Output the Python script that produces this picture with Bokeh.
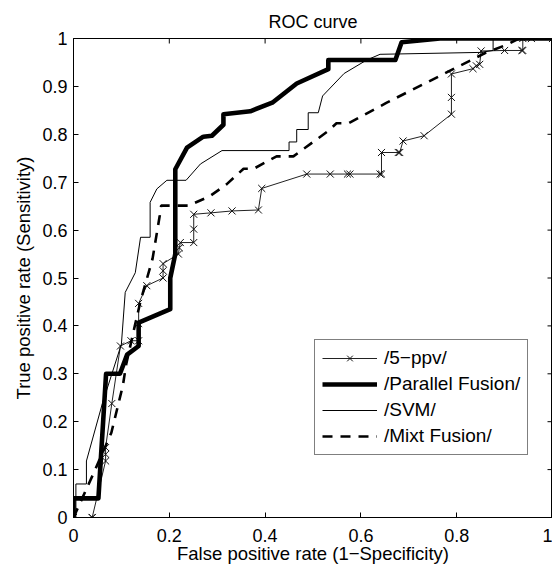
import math
from bokeh.plotting import figure
from bokeh.models import Range1d, FixedTicker, Legend, LegendItem
from bokeh.embed import file_html
from bokeh.resources import INLINE

# ---- data ----
x_ticks = [0.0, 0.2, 0.4, 0.6, 0.8, 1.0]
x_tick_labels = ["0", "0.2", "0.4", "0.6", "0.8", "1"]
y_ticks = [0.0, 0.1, 0.2, 0.3, 0.4, 0.5, 0.6, 0.7, 0.8, 0.9, 1.0]
y_tick_labels = ["0", "0.1", "0.2", "0.3", "0.4", "0.5", "0.6", "0.7", "0.8", "0.9", "1"]

series_names = ["/5\u2212ppv/", "/Parallel Fusion/", "/SVM/", "/Mixt Fusion/"]

ppv_fpr = [0.0, 0.039, 0.039, 0.067, 0.067, 0.067, 0.080, 0.098, 0.120, 0.136, 0.136, 0.136,
           0.153, 0.187, 0.187, 0.187, 0.219, 0.221, 0.223, 0.251, 0.251, 0.251, 0.287, 0.331,
           0.386, 0.393, 0.487, 0.536, 0.572, 0.577, 0.640, 0.643, 0.643, 0.678, 0.681, 0.688,
           0.732, 0.789, 0.789, 0.789, 0.834, 0.841, 0.848, 0.851, 0.900, 0.936, 0.938, 0.938,
           0.956, 1.0]
ppv_tpr = [0.0, 0.0, 0.0, 0.118, 0.132, 0.146, 0.238, 0.358, 0.369, 0.369, 0.405, 0.447,
           0.484, 0.500, 0.515, 0.530, 0.550, 0.563, 0.574, 0.574, 0.602, 0.633, 0.636, 0.640,
           0.642, 0.687, 0.717, 0.717, 0.717, 0.717, 0.717, 0.717, 0.762, 0.762, 0.762, 0.786,
           0.797, 0.842, 0.877, 0.926, 0.937, 0.943, 0.946, 0.974, 0.975, 0.975, 0.975, 1.0,
           1.0, 1.0]

par_fpr = [0.0, 0.0, 0.052, 0.068, 0.097, 0.112, 0.136, 0.136, 0.202, 0.202, 0.2125, 0.2125,
           0.237, 0.271, 0.289, 0.313, 0.313, 0.369, 0.415, 0.466, 0.532, 0.532, 0.672, 0.685,
           0.765, 1.0]
par_tpr = [0.0, 0.04, 0.04, 0.30, 0.30, 0.34, 0.358, 0.407, 0.435, 0.50, 0.55, 0.727,
           0.772, 0.795, 0.797, 0.82, 0.842, 0.848, 0.866, 0.906, 0.936, 0.955, 0.955, 0.992,
           1.0, 1.0]

svm_fpr = [0.0, 0.005, 0.005, 0.027, 0.027, 0.060, 0.100, 0.108, 0.129, 0.140, 0.160, 0.160,
           0.174, 0.195, 0.235, 0.265, 0.310, 0.450, 0.450, 0.466, 0.466, 0.490, 0.490, 0.511,
           0.520, 0.565, 0.612, 0.640, 0.850, 0.876, 0.876, 1.0]
svm_tpr = [0.0, 0.0, 0.070, 0.070, 0.118, 0.237, 0.362, 0.470, 0.511, 0.585, 0.585, 0.658,
           0.686, 0.704, 0.704, 0.738, 0.766, 0.766, 0.784, 0.784, 0.810, 0.810, 0.845, 0.845,
           0.880, 0.927, 0.955, 0.967, 0.971, 0.975, 1.0, 1.0]

mixt_fpr = [0.0, 0.044, 0.079, 0.103, 0.110, 0.128, 0.140, 0.165, 0.180, 0.183, 0.240, 0.285,
            0.320, 0.355, 0.376, 0.424, 0.459, 0.532, 0.549, 0.574, 0.654, 0.860, 0.907, 0.930,
            1.0]
mixt_tpr = [0.0, 0.097, 0.177, 0.275, 0.320, 0.400, 0.452, 0.540, 0.630, 0.651, 0.651, 0.671,
            0.696, 0.728, 0.728, 0.754, 0.754, 0.807, 0.823, 0.823, 0.866, 0.970, 0.988, 1.0,
            1.0]

FONT = "Liberation Sans"
X_MIN, X_MAX = 0.0, 1.0
Y_MIN, Y_MAX = 0.0, 1.0

p = figure(width=552, height=571, x_range=Range1d(X_MIN, X_MAX), y_range=Range1d(Y_MIN, Y_MAX),
           output_backend="svg", toolbar_location=None,
           min_border_left=73, min_border_right=0, min_border_top=38, min_border_bottom=54)

p.grid.visible = False
p.outline_line_color = "black"
p.outline_line_width = 1
p.background_fill_color = "white"
p.border_fill_color = "white"

p.title.text = "ROC curve"
p.title.align = "center"
p.title.text_font = FONT
p.title.text_font_size = "18px"
p.title.text_font_style = "normal"
p.title.text_color = "black"
p.title.standoff = 13


def style_axis(ax, ticks, labels):
    ax.ticker = FixedTicker(ticks=ticks)
    ax.major_tick_in = 5
    ax.major_tick_out = 0
    ax.minor_tick_in = 0
    ax.minor_tick_out = 0
    ax.axis_line_color = "black"
    ax.major_tick_line_color = "black"
    ax.major_label_overrides = {t: l for t, l in zip(ticks, labels)}
    ax.major_label_text_font = FONT
    ax.major_label_text_font_size = "18px"
    ax.major_label_text_color = "black"
    ax.axis_label_text_font = FONT
    ax.axis_label_text_font_size = "18.5px"
    ax.axis_label_text_font_style = "normal"
    ax.axis_label_text_color = "black"


style_axis(p.xaxis[0], x_ticks, x_tick_labels)
style_axis(p.yaxis[0], y_ticks, y_tick_labels)
p.xaxis[0].major_label_standoff = 11
p.yaxis[0].major_label_standoff = 6
p.xaxis[0].axis_label = "False positive rate (1\u2212Specificity)"
p.yaxis[0].axis_label = "True positive rate (Sensitivity)"
p.xaxis[0].axis_label_standoff = -2
p.yaxis[0].axis_label_standoff = 5

# inward ticks on the top and right edges of the box (MATLAB "box on")
p.ray(x=x_ticks, y=[Y_MAX] * len(x_ticks), length=5, length_units="screen",
      angle=-math.pi / 2, line_color="black", line_width=1)
p.ray(x=[X_MAX] * len(y_ticks), y=y_ticks, length=5, length_units="screen",
      angle=math.pi, line_color="black", line_width=1)

# ---- curves ----
r_ppv_l = p.line(ppv_fpr, ppv_tpr, line_color="#222222", line_width=1)
r_ppv_m = p.scatter(ppv_fpr, ppv_tpr, marker="x", size=10, line_color="#111111", line_width=1)
r_par = p.line(par_fpr, par_tpr, line_color="black", line_width=4.6, line_join="round")
r_svm = p.line(svm_fpr, svm_tpr, line_color="black", line_width=1)
r_mixt = p.line(mixt_fpr, mixt_tpr, line_color="black", line_width=2.6, line_dash="10 8")

legend = Legend(items=[
    LegendItem(label=series_names[0], renderers=[r_ppv_l, r_ppv_m]),
    LegendItem(label=series_names[1], renderers=[r_par]),
    LegendItem(label=series_names[2], renderers=[r_svm]),
    LegendItem(label=series_names[3], renderers=[r_mixt]),
], location=(241, 62))
legend.label_text_font = FONT
legend.label_text_font_size = "19px"
legend.label_text_color = "black"
legend.glyph_width = 55
legend.glyph_height = 20
legend.label_standoff = 7
legend.padding = 7
legend.spacing = 4
legend.margin = 0
legend.border_line_color = "black"
legend.border_line_width = 1
legend.background_fill_color = "white"
legend.background_fill_alpha = 1.0
p.add_layout(legend, "center")

open("out.html", "w").write(file_html(p, INLINE))
